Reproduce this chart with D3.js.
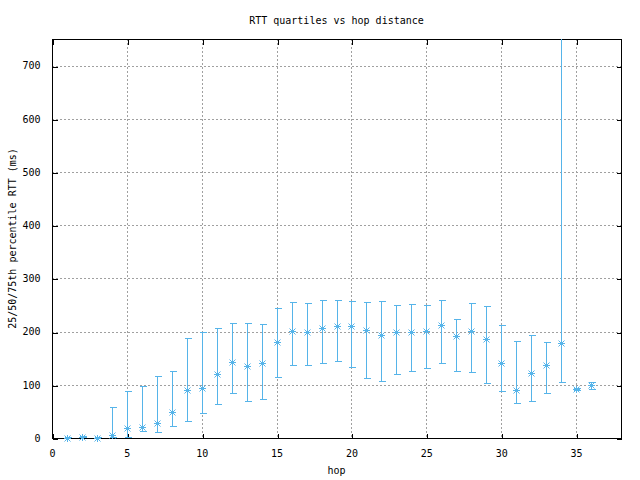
<!DOCTYPE html>
<html>
<head>
<meta charset="utf-8">
<script src="https://cdn.jsdelivr.net/npm/d3@7"></script>
<style>
  html, body { margin: 0; padding: 0; background: #fff; }
  svg { display: block; }
  text { font-family: "DejaVu Sans Mono", monospace; font-size: 10px; fill: #000; }
</style>
</head>
<body>
<svg id="chart" width="640" height="480"></svg>
<script>
const hops = [1,2,3,4,5,6,7,8,9,10,11,12,13,14,15,16,17,18,19,20,21,22,23,24,25,26,27,28,29,30,31,32,33,34,35,36];
const q25 = [0,1,0,2,2,14,11,22,32,47,64,85,70,73,115,137,137,141,145,133,113,107,120,126,132,141,126,124,103,88,66,70,85,105,90,92];
const q50 = [0.5,2,0.5,5,19,21,29,49,90,94,120,143,135,141,180,201,199,207,211,211,203,194,199,199,202,212,192,201,186,141,90,122,137,179,92,100];
const q75 = [1,3,1,58,89,98,117,126,188,199,207,216,216,214,244,256,254,259,259,258,256,258,250,252,250,259,224,254,248,212,182,194,180,1000,94,105];
const xTicks = [0,5,10,15,20,25,30,35];
const yTicks = [0,100,200,300,400,500,600,700];
const titleText = "RTT quartiles vs hop distance";
const xLabel = "hop";
const yLabel = "25/50/75th percentile RTT (ms)";

const L = 52, R = 621, T = 39, B = 438;
const color = "#56b4e9";
const svg = d3.select("#chart");
const x = d3.scaleLinear().domain([0, 38]).range([L, R]);
const y = d3.scaleLinear().domain([0, 750]).range([B, T]);
const px = v => Math.round(v) + 0.5;

svg.append("defs").append("clipPath").attr("id", "clip")
  .append("rect").attr("x", L).attr("y", T).attr("width", R - L).attr("height", B - T);

// grid
const grid = svg.append("g").attr("stroke", "#a0a0a0").attr("stroke-width", 1)
  .attr("stroke-dasharray", "2,2").attr("shape-rendering", "crispEdges");
xTicks.filter(t => t > 0).forEach(t => {
  grid.append("line").attr("x1", px(x(t))).attr("x2", px(x(t))).attr("y1", T).attr("y2", B);
});
yTicks.filter(t => t > 0).forEach(t => {
  grid.append("line").attr("x1", L).attr("x2", R).attr("y1", px(y(t))).attr("y2", px(y(t)));
});

// axes via d3 (inward ticks)
const tl = 5;
const gx = svg.append("g").attr("transform", `translate(0,${B + 0.5})`)
  .call(d3.axisBottom(x).tickValues(xTicks).tickSize(-tl).tickPadding(tl + 6).tickFormat(d3.format("d")));
const gxTop = svg.append("g").attr("transform", `translate(0,${T + 0.5})`)
  .call(d3.axisTop(x).tickValues(xTicks).tickSize(-tl).tickFormat(""));
const gy = svg.append("g").attr("transform", `translate(${L + 0.5},0)`)
  .call(d3.axisLeft(y).tickValues(yTicks).tickSize(-tl).tickPadding(tl + 7).tickFormat(d3.format("d")));
const gyR = svg.append("g").attr("transform", `translate(${R + 0.5},0)`)
  .call(d3.axisRight(y).tickValues(yTicks).tickSize(-tl).tickFormat(""));
[gx, gxTop, gy, gyR].forEach(g => {
  g.select(".domain").remove();
  g.selectAll("line").attr("stroke", "#000").attr("shape-rendering", "crispEdges");
  g.selectAll("text").attr("font-family", "DejaVu Sans Mono").attr("font-size", 10).attr("fill", "#000");
});
gx.selectAll(".tick line").attr("transform", d => `translate(${px(x(d)) - x(d)},0)`);
gxTop.selectAll(".tick line").attr("transform", d => `translate(${px(x(d)) - x(d)},0)`);
gy.selectAll(".tick line").attr("transform", d => `translate(0,${px(y(d)) - y(d)})`);
gyR.selectAll(".tick line").attr("transform", d => `translate(0,${px(y(d)) - y(d)})`);

// border
svg.append("rect").attr("x", L + 0.5).attr("y", T + 0.5).attr("width", R - L).attr("height", B - T)
  .attr("fill", "none").attr("stroke", "#000").attr("stroke-width", 1).attr("shape-rendering", "crispEdges");

// data
const data = hops.map((h, i) => ({ h, lo: q25[i], med: q50[i], hi: q75[i] }));
const plot = svg.append("g").attr("clip-path", "url(#clip)").attr("stroke", color)
  .attr("stroke-width", 1).attr("fill", "none").attr("shape-rendering", "crispEdges");
const cap = 3;
data.forEach(d => {
  const cx = px(x(d.h));
  const y1 = y(d.lo), y2 = y(d.hi);
  plot.append("line").attr("x1", cx).attr("x2", cx).attr("y1", Math.round(y1)).attr("y2", Math.round(y2));
  if (d.hi <= 750) plot.append("line").attr("x1", cx - cap).attr("x2", cx + cap + 1).attr("y1", px(y2)).attr("y2", px(y2));
  plot.append("line").attr("x1", cx - cap).attr("x2", cx + cap + 1).attr("y1", px(y1)).attr("y2", px(y1));
});
const stars = svg.append("g").attr("stroke", color).attr("stroke-width", 1).attr("fill", "none");
const s = 3.5;
data.forEach(d => {
  const cx = px(x(d.h)), cy = px(y(d.med));
  stars.append("path").attr("d",
    `M${cx - s},${cy}H${cx + s}M${cx},${cy - s}V${cy + s}` +
    `M${cx - s + 0.5},${cy - s + 0.5}L${cx + s - 0.5},${cy + s - 0.5}` +
    `M${cx - s + 0.5},${cy + s - 0.5}L${cx + s - 0.5},${cy - s + 0.5}`);
  stars.append("rect").attr("x", cx - 1.5).attr("y", cy - 1.5).attr("width", 3).attr("height", 3)
    .attr("fill", color).attr("stroke", "none");
});

// labels
svg.append("text").attr("x", (L + R) / 2).attr("y", 24).attr("text-anchor", "middle").text(titleText);
svg.append("text").attr("x", (L + R) / 2).attr("y", 474).attr("text-anchor", "middle").text(xLabel);
svg.append("text").attr("transform", `translate(16,${(T + B) / 2}) rotate(-90)`)
  .attr("text-anchor", "middle").text(yLabel);
</script>
</body>
</html>
